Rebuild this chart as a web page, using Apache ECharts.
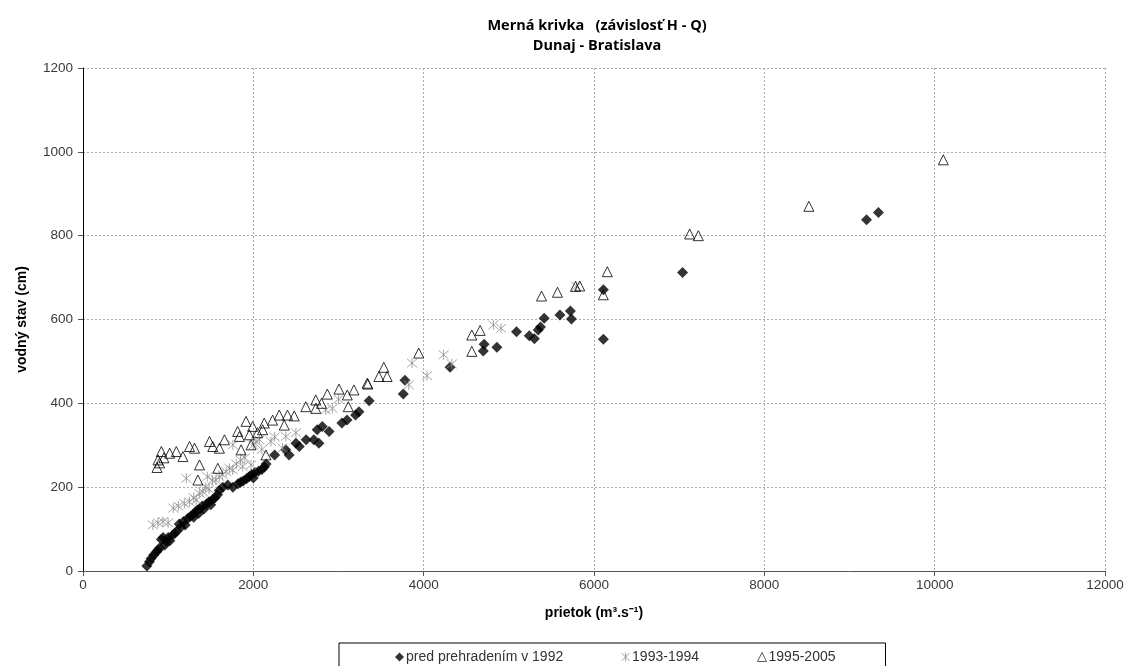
<!DOCTYPE html>
<html><head><meta charset="utf-8">
<script src="https://cdn.jsdelivr.net/npm/echarts@6/dist/echarts.min.js"></script>
<style>html,body{margin:0;padding:0;background:#fff}#c{width:1127px;height:666px}</style>
</head><body><div id="c"></div>
<script>
const titleLines = ['Merná krivka   (závislosť H - Q)', 'Dunaj - Bratislava'];
const xName = 'prietok (m³.s⁻¹)';
const yName = 'vodný stav (cm)';
const seriesNames = ['pred prehradením v 1992', '1993-1994', '1995-2005'];

// [prietok, vodný stav]
const before1992 = [
 [750,12],[780,22],[800,30],[830,38],[860,45],[880,50],[900,55],[920,75],[940,80],[960,62],[980,70],[1000,80],
 [1020,72],[1050,85],[1080,90],[1100,95],[1130,112],[1150,105],[1180,118],[1200,110],[1230,125],[1260,130],
 [1290,135],[1300,128],[1320,140],[1340,145],[1360,138],[1380,150],[1400,155],[1420,148],[1450,160],[1480,165],
 [1500,158],[1520,170],[1550,175],[1580,182],[1600,192],[1640,200],[1700,205],[1760,200],[1820,208],[1850,212],
 [1880,215],[1920,220],[1950,225],[1980,230],[2000,222],[2020,235],[2060,238],[2100,242],[2130,248],[2150,255],
 [2250,277],[2380,289],[2420,277],[2500,305],[2540,297],[2620,313],[2710,313],[2750,337],[2770,305],[2810,345],
 [2890,333],[3040,353],[3100,360],[3200,372],[3240,380],[3360,406],[3760,422],[3780,455],[4310,486],[4700,525],
 [4710,541],[4860,534],[5090,571],[5240,561],[5300,554],[5345,575],[5372,582],[5415,603],[5600,611],[5723,620],
 [5735,601],[6110,671],[6110,553],[7040,712],[9200,838],[9340,855]
];
const y1993_1994 = [
 [820,110],[880,115],[940,118],[1000,115],[1060,150],[1120,155],[1190,161],[1213,221],[1250,165],[1300,175],
 [1330,169],[1370,185],[1407,189],[1440,200],[1460,225],[1480,195],[1520,217],[1560,217],[1600,225],[1640,230],
 [1680,237],[1720,245],[1758,241],[1760,301],[1800,255],[1850,265],[1875,249],[1900,270],[1973,253],[2000,300],
 [2031,309],[2070,313],[2100,290],[2207,309],[2250,320],[2343,293],[2382,321],[2500,330],[2850,384],[2928,388],
 [3000,410],[3825,444],[3864,496],[4039,466],[4234,516],[4331,494],[4819,587],[4909,579],[5793,679]
];
const y1995_2005 = [
 [869,247],[881,265],[900,258],[920,285],[950,270],[1018,281],[1096,285],[1173,273],[1251,297],[1310,293],
 [1349,217],[1368,253],[1485,309],[1524,297],[1583,245],[1602,293],[1661,313],[1816,333],[1836,321],[1856,289],
 [1914,357],[1953,325],[1973,301],[1992,345],[2050,330],[2109,337],[2128,353],[2148,277],[2226,360],[2304,372],
 [2363,348],[2401,372],[2480,370],[2616,392],[2733,408],[2733,388],[2800,400],[2869,422],[3006,434],[3103,420],
 [3115,392],[3181,432],[3337,448],[3345,446],[3474,464],[3532,486],[3571,464],[3942,520],[4565,563],[4565,524],
 [4663,574],[5384,656],[5571,665],[5782,679],[5832,680],[6109,659],[6156,714],[7123,804],[7225,800],[8523,870],
 [10101,981]
];

const starPath = 'path://M5 0 L5 10 M0.7 0.7 L9.3 9.3 M0.7 9.3 L9.3 0.7';
const chart = echarts.init(document.getElementById('c'), null, {renderer:'canvas'});
const lblFont = 'Liberation Sans, Arial, sans-serif';
chart.setOption({
  animation:false,
  backgroundColor:'#fff',
  title:{
    text: titleLines.join('\n'),
    left: 592, top: 11, textAlign:'center',
    textStyle:{fontFamily:'Open Sans', fontWeight:'bold', fontSize:14.5, lineHeight:20, color:'#000'}
  },
  grid:{left:83, right:22, top:68, bottom:95},
  xAxis:{
    type:'value', min:0, max:12000, interval:2000,
    name:xName, nameLocation:'middle', nameGap:35,
    nameTextStyle:{fontFamily:lblFont, fontWeight:'bold', fontSize:14, color:'#000'},
    axisLine:{show:true, onZero:false, lineStyle:{color:'#555', width:1}},
    axisTick:{show:true, length:5, lineStyle:{color:'#555'}},
    axisLabel:{fontFamily:lblFont, fontSize:13.5, color:'#3a3a3a', margin:7, formatter:v=>String(v)},
    splitLine:{show:true, lineStyle:{color:'#aaaaaa', type:[2,2], width:1}}
  },
  yAxis:{
    type:'value', min:0, max:1200, interval:200,
    name:yName, nameLocation:'middle', nameGap:54,
    nameTextStyle:{fontFamily:lblFont, fontWeight:'bold', fontSize:14, color:'#000'},
    axisLine:{show:true, lineStyle:{color:'#000', width:1}},
    axisTick:{show:true, length:5, lineStyle:{color:'#555'}},
    axisLabel:{fontFamily:lblFont, fontSize:13.5, color:'#3a3a3a', margin:10, formatter:v=>String(v)},
    splitLine:{show:true, lineStyle:{color:'#aaaaaa', type:[2,2], width:1}}
  },
  legend:{
    left:339, top:643, orient:'horizontal',
    padding:[7,50,12,56], itemGap:58,
    borderColor:'#000', borderWidth:1,
    itemWidth:9, itemHeight:9,
    textStyle:{fontFamily:lblFont, fontSize:14, color:'#333', padding:[0,0,0,-3]},
    data:[
      {name:seriesNames[0], itemStyle:{color:'#000'}},
      {name:seriesNames[1], itemStyle:{color:'rgba(0,0,0,0)', borderColor:'#8c8c8c', borderWidth:1}},
      {name:seriesNames[2], itemStyle:{color:'rgba(0,0,0,0)', borderColor:'#333', borderWidth:1}}
    ]
  },
  series:[
    {name:seriesNames[0], type:'scatter', data:before1992, symbol:'diamond', symbolSize:11,
     itemStyle:{color:'#000'}, z:2},
    {name:seriesNames[1], type:'scatter', data:y1993_1994, symbol:starPath, symbolSize:10,
     itemStyle:{color:'rgba(0,0,0,0)', borderColor:'#909090', borderWidth:1}, z:3},
    {name:seriesNames[2], type:'scatter', data:y1995_2005, symbol:'triangle', symbolSize:10,
     itemStyle:{color:'rgba(0,0,0,0)', borderColor:'#000', borderWidth:1}, z:4}
  ]
});
</script></body></html>
